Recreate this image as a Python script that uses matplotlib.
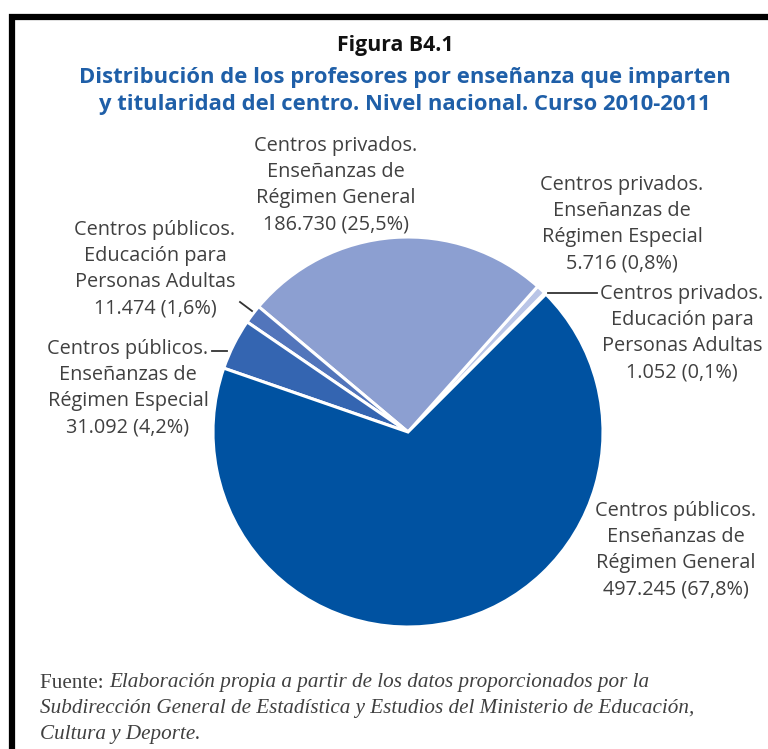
import matplotlib
matplotlib.use("Agg")
from matplotlib import pyplot as plt
from matplotlib.lines import Line2D

# data
categorias = [
    "Centros privados.\nEducación para\nPersonas Adultas",
    "Centros privados.\nEnseñanzas de\nRégimen Especial",
    "Centros privados.\nEnseñanzas de\nRégimen General",
    "Centros públicos.\nEducación para\nPersonas Adultas",
    "Centros públicos.\nEnseñanzas de\nRégimen Especial",
    "Centros públicos.\nEnseñanzas de\nRégimen General",
]
profesores = [1052, 5716, 186730, 11474, 31092, 497245]
etiquetas_valor = ["1.052 (0,1%)", "5.716 (0,8%)", "186.730 (25,5%)",
                   "11.474 (1,6%)", "31.092 (4,2%)", "497.245 (67,8%)"]
colores = ["#dfe5f4", "#b9c5e7", "#8c9fd1", "#5275bb", "#3465b1", "#0052a1"]

W, H = 768, 749
fig = plt.figure(figsize=(W / 100, H / 100), dpi=100)
ax = fig.add_axes([0, 0, 1, 1])

cx, cy, r = 408, H - 432, 195
ax.pie(profesores, colors=colores, startangle=45, counterclock=True,
       center=(cx, cy), radius=r, frame=True,
       wedgeprops=dict(edgecolor="white", linewidth=2.2))
ax.set_xlim(0, W)
ax.set_ylim(0, H)
ax.set_aspect("equal")
ax.axis("off")

fuente = "Open Sans"
gris = "#404040"
# label centre positions (pixels, top origin)
pos = [(682, 333), (622, 224), (336, 185), (155, 269), (128, 388), (676, 550)]
for cat, val, (x, y) in zip(categorias, etiquetas_valor, pos):
    ax.text(x, H - y, cat + "\n" + val, ha="center", va="center",
            fontsize=14.3, family=fuente, color=gris, linespacing=1.42)

# leader lines
lineas = [((548, 597), (293, 293)), ((240, 252), (302, 311)), ((212, 227), (351, 351))]
for xs, ys in lineas:
    ax.add_line(Line2D(xs, [H - v for v in ys], color="#333333", lw=1.3))

# titles
ax.text(395, H - 45, "Figura B4.1", ha="center", va="center", fontsize=15.3,
        fontweight="bold", family=fuente, color="#111111")
ax.text(405, H - 91, "Distribución de los profesores por enseñanza que imparten\n"
        "y titularidad del centro. Nivel nacional. Curso 2010-2011",
        ha="center", va="center", fontsize=15.8, fontweight="bold",
        family=fuente, color="#1f5fa8", linespacing=1.4)

# source
serif = "Liberation Serif"
fs = 15.2
fig.canvas.draw()
rend = fig.canvas.get_renderer()
t0 = ax.text(40, H - 683, "Fuente: ", ha="left", va="center", fontsize=fs,
             family=serif, color=gris)
bb = t0.get_window_extent(renderer=rend)
ax.text(bb.x1, H - 683, "Elaboración propia a partir de los datos proporcionados por la",
        ha="left", va="center", fontsize=fs, family=serif,
        style="italic", color=gris)
ax.text(40, H - 709, "Subdirección General de Estadística y Estudios del Ministerio de Educación,",
        ha="left", va="center", fontsize=fs, family=serif,
        style="italic", color=gris)
ax.text(40, H - 734, "Cultura y Deporte.", ha="left", va="center", fontsize=fs,
        family=serif, style="italic", color=gris)

# frame
ax.add_line(Line2D([12, 12, W], [0, H - 17, H - 17], color="black", lw=4.5,
                   solid_joinstyle="miter"))

fig.savefig("out.png", dpi=100)
